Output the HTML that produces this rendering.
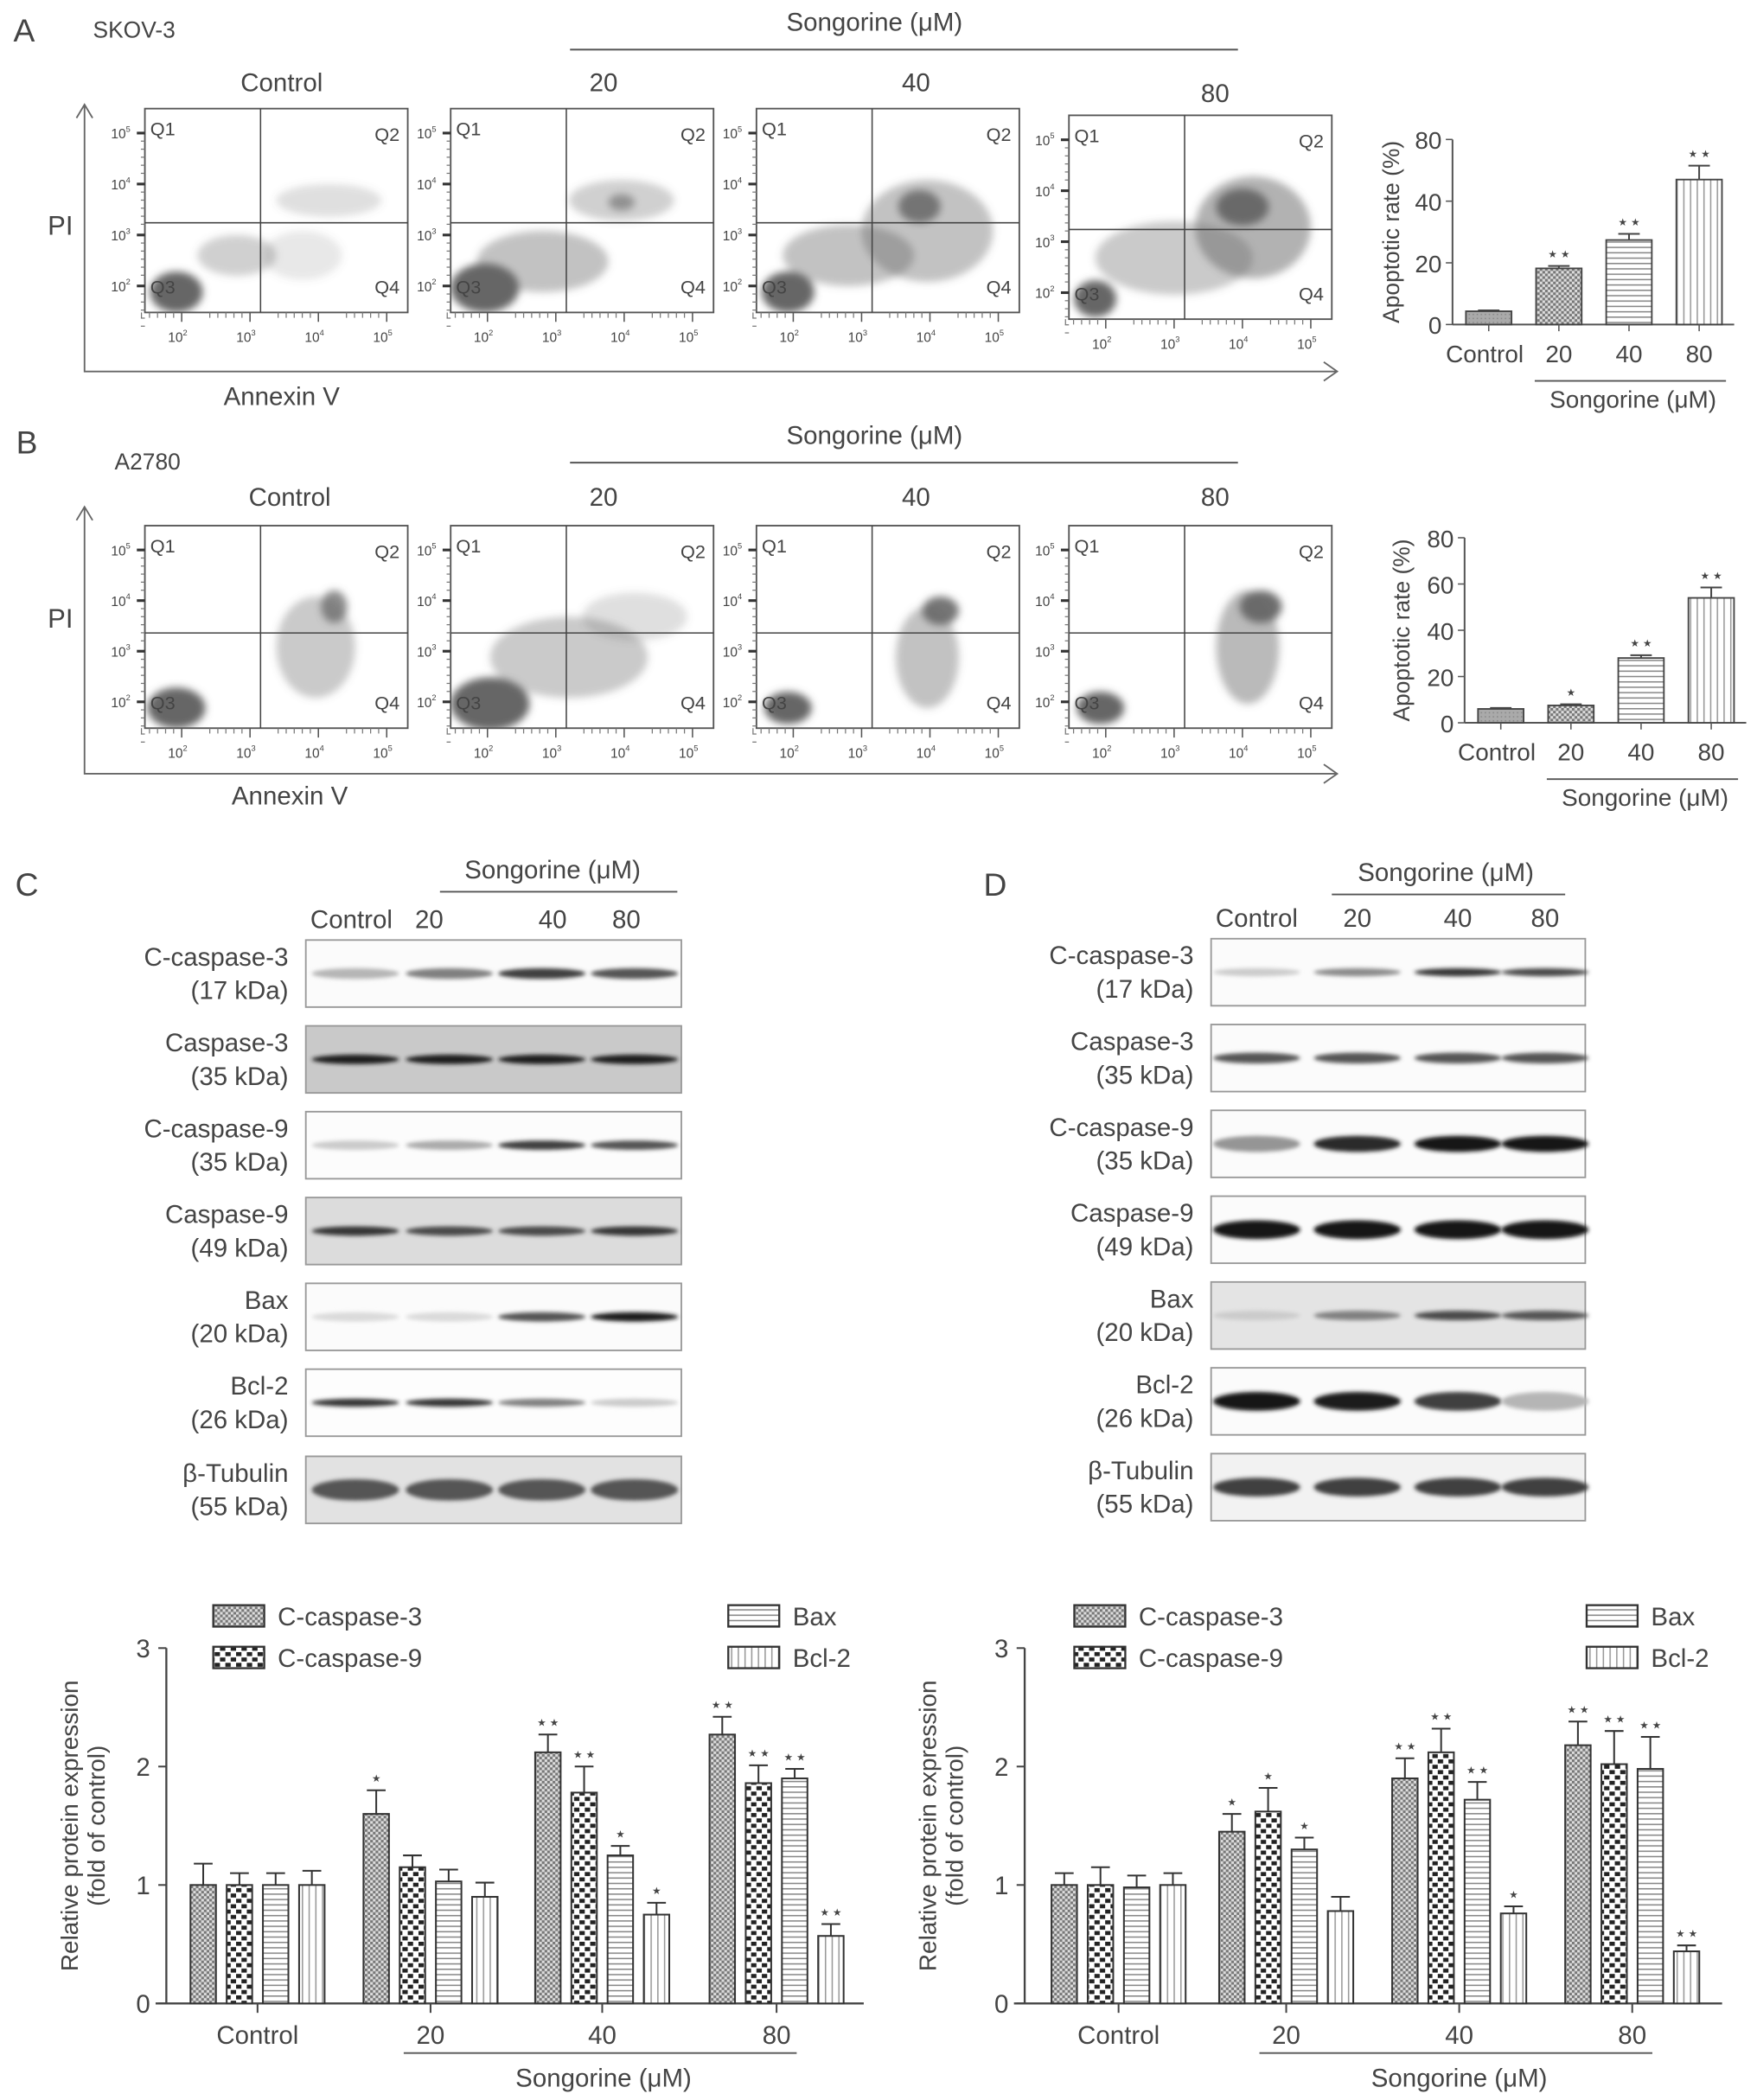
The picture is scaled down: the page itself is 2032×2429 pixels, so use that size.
<!DOCTYPE html>
<html><head><meta charset="utf-8"><style>
html,body{margin:0;padding:0;background:#fff;}
svg{display:block;font-family:"Liberation Sans",sans-serif;}
text{fill:#444;}
</style></head><body>
<svg id="fig" width="2032" height="2429" viewBox="0 0 1310 1566" xmlns="http://www.w3.org/2000/svg">
<defs>
<filter id="blur3" x="-50%" y="-50%" width="200%" height="200%"><feGaussianBlur stdDeviation="3"/></filter>
<filter id="blur1" x="-50%" y="-100%" width="200%" height="300%"><feGaussianBlur stdDeviation="1.6"/></filter>
<pattern id="pDots" width="4" height="4" patternUnits="userSpaceOnUse"><rect width="4" height="4" fill="#ddd"/><rect width="2" height="2" fill="#777"/><rect x="2" y="2" width="2" height="2" fill="#777"/></pattern>
<pattern id="pCheck" width="8" height="8" patternUnits="userSpaceOnUse"><rect width="8" height="8" fill="#fff"/><rect width="4" height="3" fill="#222"/><rect x="4" y="4" width="4" height="3" fill="#222"/></pattern>
<pattern id="pH" width="4" height="4" patternUnits="userSpaceOnUse"><rect width="4" height="4" fill="#fff"/><rect y="0" width="4" height="1" fill="#888"/></pattern>
<pattern id="pV" width="5" height="5" patternUnits="userSpaceOnUse"><rect width="5" height="5" fill="#fff"/><rect x="0" width="1" height="5" fill="#999"/></pattern>
<pattern id="pGray" width="3" height="3" patternUnits="userSpaceOnUse"><rect width="3" height="3" fill="#aaa"/><rect width="1" height="1" fill="#888"/></pattern>
</defs>
<g id="root"></g>
</svg>
<script>
// ---------- data ----------
const apoCats = ["Control","20","40","80"];
const apoA = [4.3, 18.2, 27.4, 54];
const apoAErr = [0.3, 0.8, 2, 9];
const apoAStars = ["", "**", "**", "**"];
const apoATicks = [0, 20, 40, 80];
const apoB = [6, 7.5, 28, 54];
const apoBErr = [0.4, 0.5, 1.2, 4.5];
const apoBStars = ["", "*", "**", "**"];
const apoBTicks = [0, 20, 40, 60, 80];

const protCats = ["Control","20","40","80"];
const protSeries = ["C-caspase-3","C-caspase-9","Bax","Bcl-2"];
const cC3 = [1, 1.6, 2.12, 2.27];
const cC9 = [1, 1.15, 1.78, 1.86];
const cBax = [1, 1.03, 1.25, 1.9];
const cBcl = [1, 0.9, 0.75, 0.57];
const cErr = [[0.18,0.2,0.15,0.15],[0.1,0.1,0.22,0.15],[0.1,0.1,0.08,0.08],[0.12,0.12,0.1,0.1]];
const cStars = [["","*","**","**"],["","","**","**"],["","","*","**"],["","","*","**"]];
const dC3 = [1, 1.45, 1.9, 2.18];
const dC9 = [1, 1.62, 2.12, 2.02];
const dBax = [0.98, 1.3, 1.72, 1.98];
const dBcl = [1, 0.78, 0.76, 0.44];
const dErr = [[0.1,0.15,0.17,0.2],[0.15,0.2,0.2,0.28],[0.1,0.1,0.15,0.27],[0.1,0.12,0.06,0.05]];
const dStars = [["","*","**","**"],["","*","**","**"],["","*","**","**"],["","","*","**"]];
const protTicks = [0,1,2,3];

const blotNames = ["C-caspase-3","Caspase-3","C-caspase-9","Caspase-9","Bax","Bcl-2","β-Tubulin"];
const blotKda = ["(17 kDa)","(35 kDa)","(35 kDa)","(49 kDa)","(20 kDa)","(26 kDa)","(55 kDa)"];
const blotC = [[0.25,0.5,0.8,0.7],[0.95,0.95,0.95,0.95],[0.15,0.3,0.8,0.7],[0.85,0.75,0.75,0.85],[0.08,0.08,0.7,0.95],[0.85,0.85,0.5,0.15],[0.7,0.7,0.7,0.7]];
const blotD = [[0.15,0.45,0.85,0.75],[0.7,0.7,0.7,0.7],[0.4,0.9,1,1],[1,1,1,1],[0.15,0.5,0.75,0.7],[1,0.95,0.8,0.25],[0.8,0.8,0.8,0.8]];

const NS="http://www.w3.org/2000/svg";
const root=document.getElementById('root');
function mk(tag, attrs, parent){const e=document.createElementNS(NS,tag);for(const k in attrs)e.setAttribute(k,attrs[k]);(parent||root).appendChild(e);return e;}
function txt(x,y,s,size,anchor,parent,extra){const t=mk('text',Object.assign({x:x,y:y,'font-size':size,'text-anchor':anchor||'middle'},extra||{}),parent);t.textContent=s;return t;}

// ---------- headers ----------
let t;
t=txt(18,31,"A",24,'middle');

t=txt(100,28,"SKOV-3",17,'middle');

t=txt(20,338,"B",24,'middle');

t=txt(110,350,"A2780",17,'middle');

t=txt(20,668,"C",24,'middle');

t=txt(742,668,"D",24,'middle');


// ---------- flow cytometry ----------
const flowA=[
 [[0.12,0.9,0.1,0.1,1],[0.35,0.72,0.15,0.1,0.3],[0.7,0.45,0.2,0.08,0.2],[0.6,0.72,0.15,0.12,0.15]],
 [[0.13,0.88,0.13,0.12,1],[0.35,0.75,0.25,0.15,0.4],[0.65,0.45,0.2,0.1,0.3],[0.65,0.46,0.05,0.04,0.6]],
 [[0.12,0.9,0.1,0.1,1],[0.35,0.72,0.25,0.15,0.4],[0.65,0.6,0.25,0.25,0.4],[0.62,0.48,0.08,0.08,0.85]],
 [[0.1,0.9,0.08,0.09,1],[0.4,0.7,0.3,0.18,0.35],[0.7,0.55,0.22,0.25,0.5],[0.66,0.45,0.1,0.09,0.95]]];
const flowB=[
 [[0.12,0.9,0.11,0.1,1],[0.65,0.6,0.15,0.25,0.35],[0.72,0.4,0.05,0.08,0.75]],
 [[0.15,0.88,0.15,0.13,1],[0.45,0.65,0.3,0.2,0.35],[0.7,0.45,0.2,0.12,0.2]],
 [[0.12,0.9,0.09,0.08,1],[0.65,0.65,0.12,0.25,0.4],[0.7,0.42,0.07,0.07,0.9]],
 [[0.12,0.9,0.09,0.08,1],[0.68,0.6,0.12,0.28,0.45],[0.73,0.4,0.08,0.08,0.95]]];
function flowPlot(x0,y0,w,h,clusters,name,hfrac){
  const g=mk('g',{});
  
  
  const cp='cp'+name;
  const c=mk('clipPath',{id:cp},g);mk('rect',{x:x0,y:y0,width:w,height:h},c);
  const cg=mk('g',{'clip-path':'url(#'+cp+')',filter:'url(#blur3)'},g);
  clusters.forEach(q=>{mk('ellipse',{cx:x0+q[0]*w,cy:y0+q[1]*h,rx:q[2]*w,ry:q[3]*h,fill:'#666','fill-opacity':q[4]},cg);});
  mk('rect',{x:x0,y:y0,width:w,height:h,fill:'none',stroke:'#555','stroke-width':1.2},g);
  const vx=x0+0.44*w, hy=y0+hfrac*h;
  mk('line',{x1:vx,y1:y0,x2:vx,y2:y0+h,stroke:'#444','stroke-width':1},g);
  mk('line',{x1:x0,y1:hy,x2:x0+w,y2:hy,stroke:'#444','stroke-width':1},g);
  txt(x0+4,y0+20,"Q1",14,'start',g);txt(x0+w-6,y0+24,"Q2",14,'end',g);
  txt(x0+4,y0+h-14,"Q3",14,'start',g);txt(x0+w-6,y0+h-14,"Q4",14,'end',g);
  const xs=[0.14,0.4,0.66,0.92], ys=[0.12,0.37,0.62,0.87], ex=["2","3","4","5"];
  xs.forEach((f,i)=>{const lx=x0+f*w;mk('line',{x1:lx,y1:y0+h,x2:lx,y2:y0+h+7,stroke:'#555'},g);
    for(let k=1;k<6;k++){mk('line',{x1:lx-k*6,y1:y0+h,x2:lx-k*6,y2:y0+h+4,stroke:'#777','stroke-width':0.8},g);}
    const tt=txt(lx-3,y0+h+22,"10",10,'middle',g);const s=mk('tspan',{dy:-5,'font-size':6},tt);s.textContent=ex[i];});
  ys.forEach((f,i)=>{const ly=y0+f*h;mk('line',{x1:x0-6,y1:ly,x2:x0,y2:ly,stroke:'#333','stroke-width':2},g);
    for(let k=1;k<6;k++){mk('line',{x1:x0-3,y1:ly+k*6,x2:x0,y2:ly+k*6,stroke:'#777','stroke-width':0.8},g);}
    const tt=txt(x0-18,ly+4,"10",10,'middle',g);const s=mk('tspan',{dy:-5,'font-size':6},tt);s.textContent=ex[3-i];});
}
function flowRow(yTop,h,clus,prefix,lastOffset,hfrac){
  const xs=[108,336,564,797];
  xs.forEach((x,i)=>flowPlot(x,yTop+(i==3?lastOffset:0),196,h,clus[i],prefix+'-flow-'+apoCats[i].toLowerCase(),hfrac));
}
flowRow(81,152,flowA,'a',5,0.56);
flowRow(392,151,flowB,'b',0,0.53);

function flowAxes(top,bottom,py,annY,prefix,ctrlX,labY,lastLabY,songY,lineY){
  const g=mk('g',{});
  
  
  mk('path',{d:`M63 ${top} L63 ${bottom} L997 ${bottom}`,fill:'none',stroke:'#666','stroke-width':1.2},g);
  mk('path',{d:`M57 ${top+10} L63 ${top} L69 ${top+10} M987 ${bottom-7} L997 ${bottom} L987 ${bottom+7}`,fill:'none',stroke:'#666','stroke-width':1.2},g);
  txt(45,py,"PI",20,'middle',g);
  txt(ctrlX,annY,"Annexin V",19,'middle',g);
  txt(ctrlX,labY,"Control",19,'middle',g);
  txt(450,labY,"20",19,'middle',g);txt(683,labY,"40",19,'middle',g);txt(906,lastLabY,"80",19,'middle',g);
  txt(652,songY,"Songorine (μM)",19,'middle',g);
  mk('line',{x1:425,y1:lineY,x2:923,y2:lineY,stroke:'#555','stroke-width':1.3},g);
}
flowAxes(78,277,175,302,'a',210,68,76,23,37);
flowAxes(378,577,468,600,'b',216,377,377,331,345);

// ---------- apoptosis bar charts ----------
function apoChart(ax,y0,y80,vals,errs,stars,ticks,prefix,titleX){
  const g=mk('g',{});
  
  
  // piecewise linear scale: ticks equally spaced
  const step=(y0-y80)/(ticks.length-1);
  const ys=v=>{for(let i=0;i<ticks.length-1;i++){if(v<=ticks[i+1]||i==ticks.length-2){return y0-step*(i+(v-ticks[i])/(ticks[i+1]-ticks[i]));}}};
  const xc=i=>ax+27+i*52.3;
  const fills=['url(#pGray)','url(#pDots)','url(#pH)','url(#pV)'];
  mk('line',{x1:ax,y1:y80,x2:ax,y2:y0,stroke:'#555','stroke-width':1.3},g);
  mk('line',{x1:ax,y1:y0,x2:ax+210,y2:y0,stroke:'#555','stroke-width':1.3},g);
  ticks.forEach(v=>{mk('line',{x1:ax-5,y1:ys(v),x2:ax,y2:ys(v),stroke:'#555'},g);txt(ax-8,ys(v)+7,String(v),18,'end',g);});
  vals.forEach((v,i)=>{
    const b=mk('rect',{x:xc(i)-17,y:ys(v),width:34,height:y0-ys(v),fill:fills[i],stroke:'#444','stroke-width':1.2},g);
    
    
    const te=ys(v+errs[i]);
    mk('path',{d:`M${xc(i)} ${ys(v)} L${xc(i)} ${te} M${xc(i)-8} ${te} L${xc(i)+8} ${te}`,stroke:'#444','stroke-width':1.3,fill:'none'},g);
    if(stars[i])txt(xc(i),te-4,stars[i].replace(/\*/g,'⋆'),15,'middle',g);
    mk('line',{x1:xc(i),y1:y0,x2:xc(i),y2:y0+5,stroke:'#555'},g);
    txt(xc(i)+(i==0?-3:0),y0+28,apoCats[i],18,'middle',g);
  });
  mk('line',{x1:xc(1)-18,y1:y0+42,x2:xc(3)+20,y2:y0+42,stroke:'#555','stroke-width':1.2},g);
  txt((xc(1)+xc(3))/2+3,y0+62,"Songorine (μM)",18,'middle',g);
  txt(0,0,"Apoptotic rate (%)",17,'middle',g,{transform:`translate(${titleX},${(y0+y80)/2}) rotate(-90)`});
}
apoChart(1083,242,104,apoA,apoAErr,apoAStars,apoATicks,'a',1043);
apoChart(1092,539,401,apoB,apoBErr,apoBStars,apoBTicks,'b',1051);

// ---------- western blots ----------
function blots(boxX,boxW,lanes,rowsY,rowH,data,labelX,prefix,bgs,thick,colX,colY,songX,lineX1,lineX2,lineY){
  const g=mk('g',{});
  
  
  txt(songX,lineY-10,"Songorine (μM)",19,'middle',g);
  mk('line',{x1:lineX1,y1:lineY,x2:lineX2,y2:lineY,stroke:'#555','stroke-width':1.2},g);
  protCats.forEach((c,i)=>txt(colX[i],colY,c,19,'middle',g));
  rowsY.forEach((y,r)=>{
    const rg=mk('g',{},g);
    
    
    mk('rect',{x:boxX,y:y,width:boxW,height:rowH,fill:bgs[r],stroke:'#999','stroke-width':1.2},rg);
    data[r].forEach((d,i)=>{
      const shade=Math.round(235-d*215);
      mk('ellipse',{cx:lanes[i],cy:y+rowH/2,rx:boxW/8.6,ry:thick[r]/2,fill:`rgb(${shade},${shade},${shade})`,filter:'url(#blur1)'},rg);
    });
    txt(labelX,y+19,blotNames[r],19,'end',rg);
    txt(labelX,y+44,blotKda[r],19,'end',rg);
  });
}
blots(228,280,[265,335,404,473],[701,765,829,893,957,1021,1086],50,blotC,215,'c',
 ['#fbfbfb','#c9c9c9','#fcfcfc','#dcdcdc','#fbfbfb','#fdfdfd','#e2e2e2'],[8,7,7,7,7,6,16],
 [262,320,412,467],692,412,328,505,665);
blots(903,279,[937,1012,1087,1152],[700,764,828,892,956,1020,1084],50,blotD,890,'d',
 ['#fbfbfb','#fbfbfb','#fbfbfb','#fbfbfb','#e4e4e4','#fbfbfb','#f2f2f2'],[6,8,12,14,7,14,14],
 [937,1012,1087,1152],691,1078,993,1167,667);

// ---------- protein expression bar charts ----------
function protChart(ax,groupX,series,errs,stars,prefix,legX,legX2){
  const y0=1494, y3=1229, xr=ax+520;
  const ys=v=>y0-(v/3)*(y0-y3);
  const fills=['url(#pDots)','url(#pCheck)','url(#pH)','url(#pV)'];
  const g=mk('g',{});
  
  
  mk('line',{x1:ax,y1:y3,x2:ax,y2:y0,stroke:'#444','stroke-width':1.5},g);
  mk('line',{x1:ax-8,y1:y0,x2:xr,y2:y0,stroke:'#444','stroke-width':1.5},g);
  protTicks.forEach(v=>{mk('line',{x1:ax-6,y1:ys(v),x2:ax,y2:ys(v),stroke:'#444','stroke-width':1.3},g);txt(ax-12,ys(v)+7,String(v),19,'end',g);});
  txt(0,0,"Relative protein expression",18,'middle',g,{transform:`translate(${ax-66},${(y0+y3)/2}) rotate(-90)`});
  txt(0,0,"(fold of control)",18,'middle',g,{transform:`translate(${ax-46},${(y0+y3)/2}) rotate(-90)`});
  groupX.forEach((gx,gi)=>{
    mk('line',{x1:gx,y1:y0,x2:gx,y2:y0+7,stroke:'#444','stroke-width':1.3},g);
    txt(gx,y0+30,protCats[gi],19,'middle',g);
    series.forEach((s,si)=>{
      const cx=gx-40.5+si*27, v=s[gi];
      const b=mk('rect',{x:cx-9.5,y:ys(v),width:19,height:y0-ys(v),fill:fills[si],stroke:'#333','stroke-width':1.3},g);
      
      
      const te=ys(v+errs[si][gi]);
      mk('path',{d:`M${cx} ${ys(v)} L${cx} ${te} M${cx-7} ${te} L${cx+7} ${te}`,stroke:'#333','stroke-width':1.3,fill:'none'},g);
      if(stars[si][gi])txt(cx,te-4,stars[si][gi].replace(/\*/g,'⋆'),15,'middle',g);
    });
  });
  mk('line',{x1:groupX[1]-20,y1:y0+37,x2:groupX[3]+15,y2:y0+37,stroke:'#555','stroke-width':1.2},g);
  txt((groupX[1]+groupX[3])/2,y0+62,"Songorine (μM)",19,'middle',g);
  const leg=[[legX,1197],[legX,1228],[legX2,1197],[legX2,1228]];
  leg.forEach((p,i)=>{
    const lg=mk('g',{},g);
    
    
    mk('rect',{x:p[0],y:p[1],width:38,height:16,fill:fills[i],stroke:'#333','stroke-width':1.5},lg);
    txt(p[0]+48,p[1]+15,protSeries[i],19,'start',lg);
  });
}
protChart(124,[192,321,449,579],[cC3,cC9,cBax,cBcl],cErr,cStars,'c',159,543);
protChart(764,[834,959,1088,1217],[dC3,dC9,dBax,dBcl],dErr,dStars,'d',801,1183);
</script>
</body></html>
